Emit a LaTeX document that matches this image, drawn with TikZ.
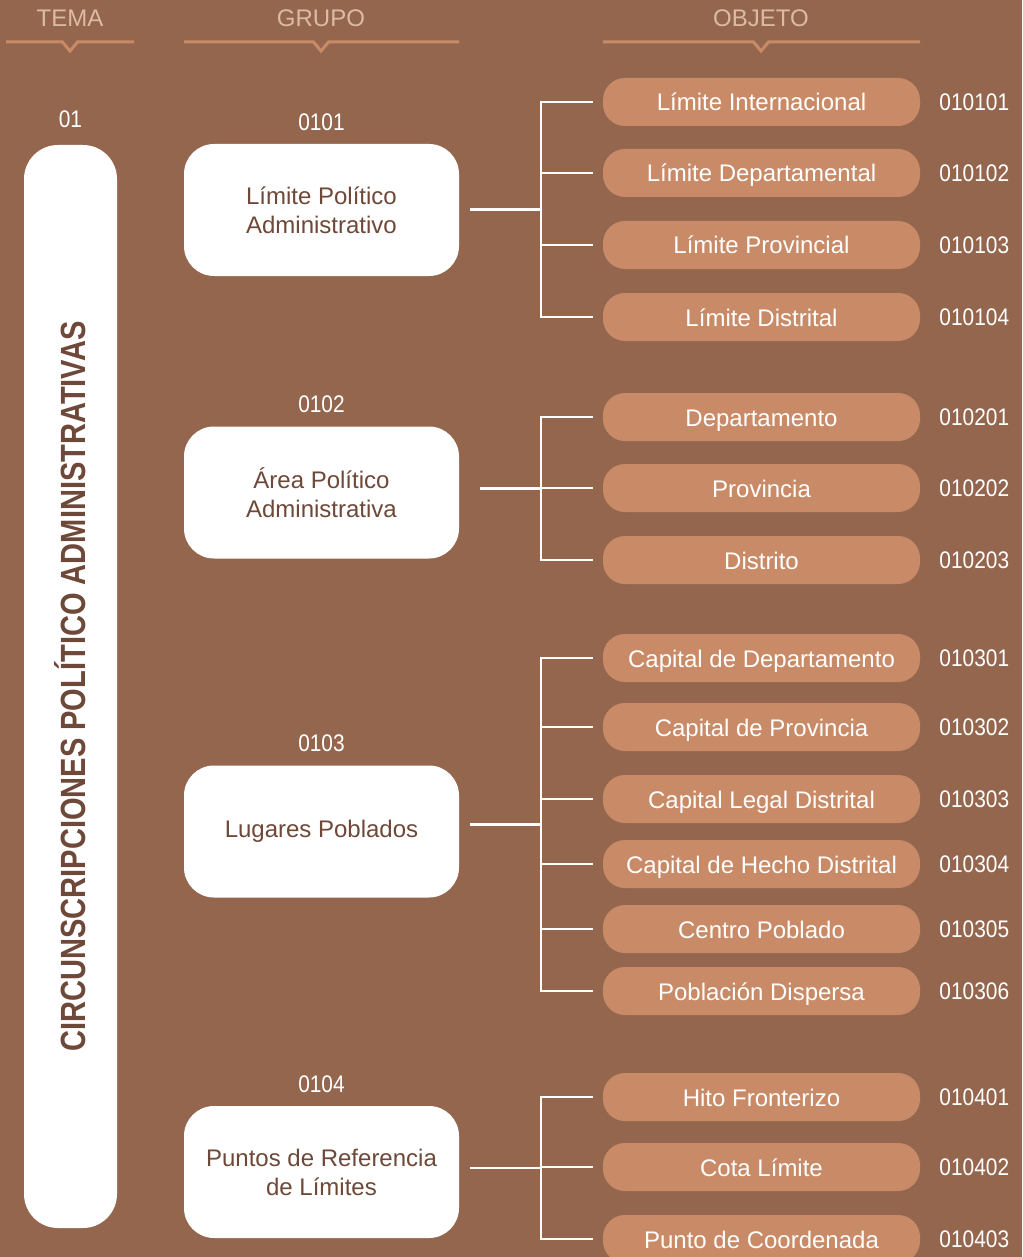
\documentclass[tikz,border=0pt]{standalone}
\usepackage{fontspec}
\setmainfont{Liberation Sans}
\newfontfamily\codefont[FakeStretch=0.87]{Liberation Sans}
\newfontfamily\temafont[FakeStretch=0.83]{Liberation Sans}
\usepackage{xcolor}
\usetikzlibrary{arrows}

\definecolor{bgbrown}{RGB}{148,102,78}
\definecolor{objfill}{RGB}{201,139,103}
\definecolor{headtxt}{RGB}{221,187,163}
\definecolor{darktxt}{RGB}{110,72,56}

\tikzset{
	head/.style={text=headtxt, font=\fontsize{12}{14}\selectfont},
	headline/.style={draw=objfill, line width=1.5pt},
	tema/.style={fill=white, rounded corners=17pt, minimum width=46.5pt, minimum height=541.5pt, inner sep=0pt, text=darktxt, font=\temafont\bfseries\fontsize{17.5}{20}\selectfont},
	grupo/.style={fill=white, rounded corners=15pt, minimum width=137.5pt, minimum height=66pt, inner sep=0pt, align=center, text=darktxt, font=\fontsize{12}{14.5}\selectfont},
	objeto/.style={fill=objfill, rounded corners=11pt, minimum width=158.5pt, minimum height=24pt, inner sep=0pt, text height=9pt, text depth=0pt, text=white, font=\fontsize{12}{14.5}\selectfont},
	branch/.style={draw=white, line width=1.3pt},
	every label/.style={text=white, font=\codefont\fontsize{12}{14}\selectfont}
}

\begin{document}
\begin{tikzpicture}[x=0.5pt,y=-0.5pt]
	\useasboundingbox (0,0) rectangle (1022,1257);
	\fill[bgbrown] (0,0) rectangle (1022,1257);
	% headers
	\node (tema) [head] at (70,18) {TEMA};
	\node (grupo) [head] at (321,18) {GRUPO};
	\node (objeto) [head] at (761,18) {OBJETO};
	\draw[headline] (6,42) -- (62.5,42) -- (70,51) -- (77.5,42) -- (134,42);
	\draw[headline] (184,42) -- (313.5,42) -- (321,51) -- (328.5,42) -- (459,42);
	\draw[headline] (603,42) -- (753.5,42) -- (761,51) -- (768.5,42) -- (920,42);
	% tema
	\node (t1) [tema, label={[label distance=5pt]90:{01}}] at (70.5,686.5) {\rotatebox{90}{CIRCUNSCRIPCIONES POLÍTICO ADMINISTRATIVAS}};
	% grupos
	\node (g1) [grupo, label={[label distance=3pt]90:{0101}}] at (321.5,210) {Límite Político\\Administrativo};
	\node (g2) [grupo, label={[label distance=3pt]90:{0102}}] at (321.5,492.5) {Área Político\\Administrativa};
	\node (g3) [grupo, label={[label distance=3pt]90:{0103}}] at (321.5,831.5) {Lugares Poblados};
	\node (g4) [grupo, label={[label distance=3pt]90:{0104}}] at (321.5,1172) {Puntos de Referencia\\de Límites};
	% objetos
	\node (o11) [objeto, label={[label distance=6pt]0:{010101}}] at (761.5,102) {Límite Internacional};
	\node (o12) [objeto, label={[label distance=6pt]0:{010102}}] at (761.5,173) {Límite Departamental};
	\node (o13) [objeto, label={[label distance=6pt]0:{010103}}] at (761.5,245) {Límite Provincial};
	\node (o14) [objeto, label={[label distance=6pt]0:{010104}}] at (761.5,317) {Límite Distrital};
	\node (o21) [objeto, label={[label distance=6pt]0:{010201}}] at (761.5,417) {Departamento};
	\node (o22) [objeto, label={[label distance=6pt]0:{010202}}] at (761.5,488) {Provincia};
	\node (o23) [objeto, label={[label distance=6pt]0:{010203}}] at (761.5,560) {Distrito};
	\node (o31) [objeto, label={[label distance=6pt]0:{010301}}] at (761.5,658) {Capital de Departamento};
	\node (o32) [objeto, label={[label distance=6pt]0:{010302}}] at (761.5,727) {Capital de Provincia};
	\node (o33) [objeto, label={[label distance=6pt]0:{010303}}] at (761.5,799) {Capital Legal Distrital};
	\node (o34) [objeto, label={[label distance=6pt]0:{010304}}] at (761.5,864) {Capital de Hecho Distrital};
	\node (o35) [objeto, label={[label distance=6pt]0:{010305}}] at (761.5,929) {Centro Poblado};
	\node (o36) [objeto, label={[label distance=6pt]0:{010306}}] at (761.5,991) {Población Dispersa};
	\node (o41) [objeto, label={[label distance=6pt]0:{010401}}] at (761.5,1097) {Hito Fronterizo};
	\node (o42) [objeto, label={[label distance=6pt]0:{010402}}] at (761.5,1167) {Cota Límite};
	\node (o43) [objeto, label={[label distance=6pt]0:{010403}}] at (761.5,1239) {Punto de Coordenada};
	% ramas
	\coordinate (j1) at (541,209.5);
	\coordinate (j2) at (541,488.5);
	\coordinate (j3) at (541,824.5);
	\coordinate (j4) at (541,1168);
	\draw[branch] ([xshift=-5pt]o11.west) -| (j1) |- ([xshift=-5pt]o14.west);
	\draw[branch] ([xshift=-5pt]o21.west) -| (j2) |- ([xshift=-5pt]o23.west);
	\draw[branch] ([xshift=-5pt]o31.west) -| (j3) |- ([xshift=-5pt]o36.west);
	\draw[branch] ([xshift=-5pt]o41.west) -| (j4) |- ([xshift=-5pt]o43.west);
	\draw[branch] ([xshift=5.5pt]g1.east |- j1) -- (j1);
	\draw[branch] ([xshift=10.5pt]g2.east |- j2) -- (j2);
	\draw[branch] ([xshift=5.5pt]g3.east |- j3) -- (j3);
	\draw[branch] ([xshift=5.5pt]g4.east |- j4) -- (j4);
	\foreach \o in {o12,o13,o22,o32,o33,o34,o35,o42}
		\draw[branch] (j1 |- \o.west) -- ([xshift=-5pt]\o.west);
\end{tikzpicture}
\end{document}
